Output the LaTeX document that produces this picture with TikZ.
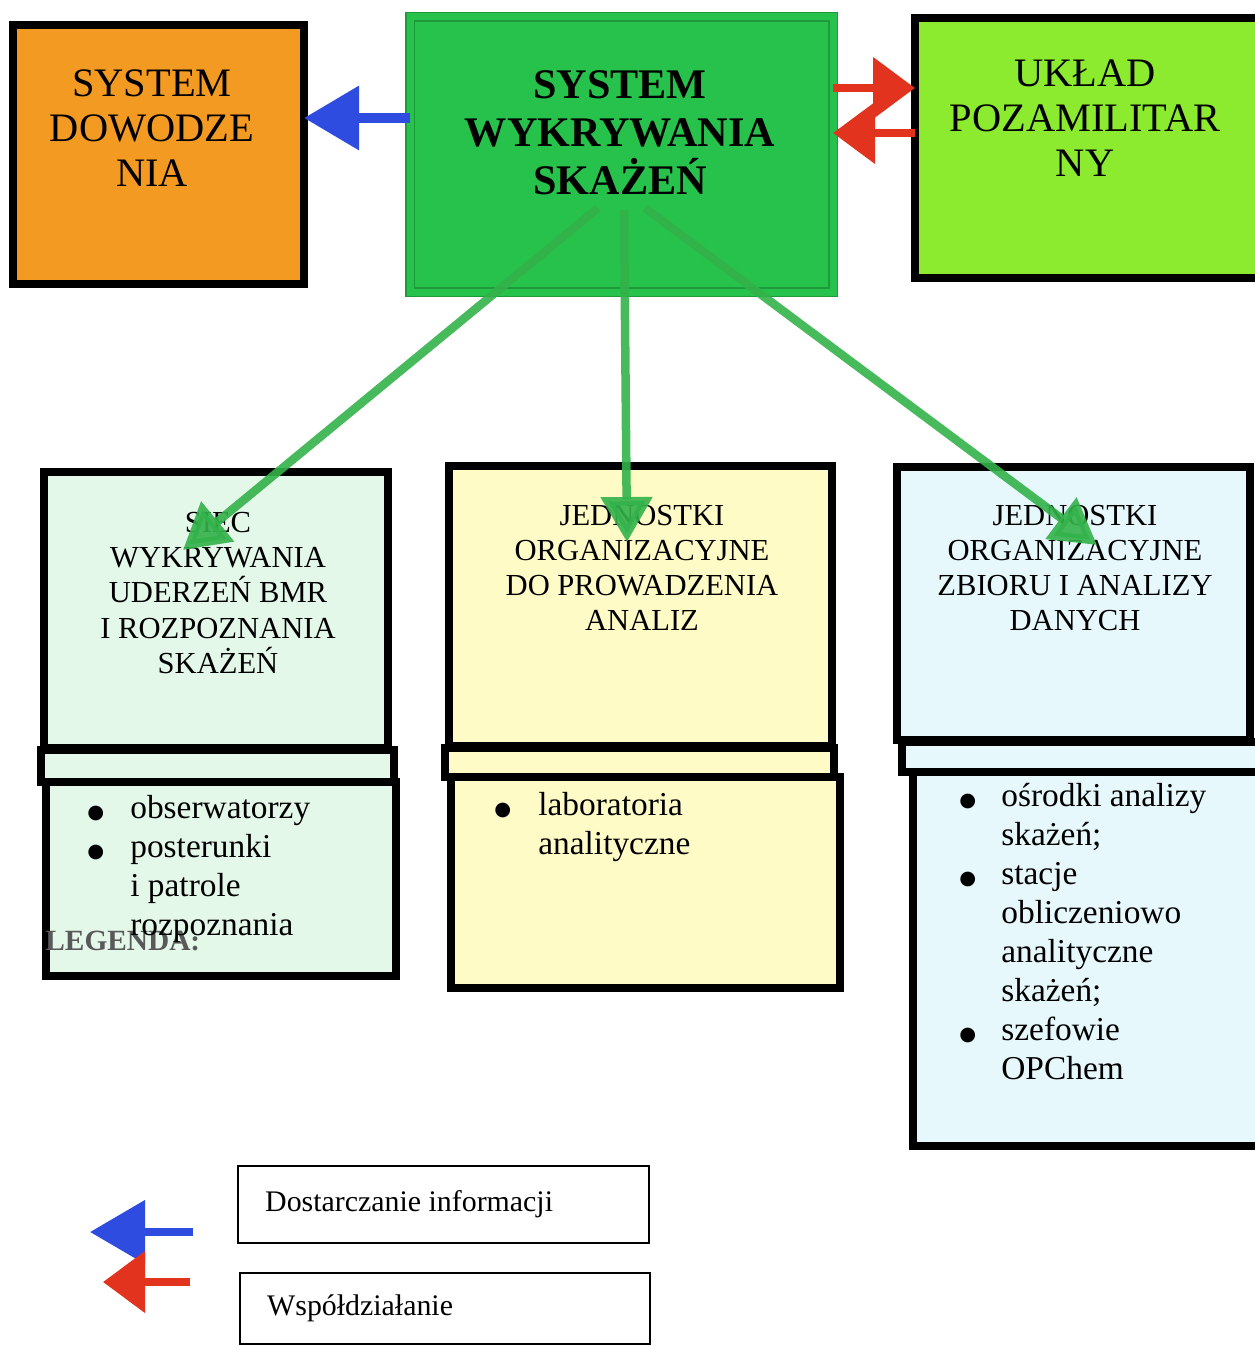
\documentclass[tikz,border=0pt]{standalone}
\usepackage{fontspec}
\setmainfont{Liberation Serif}
\newfontfamily\symb{DejaVu Sans}
\usetikzlibrary{arrows.meta,positioning}
\definecolor{pomar}{HTML}{F29A22}
\definecolor{ziel}{HTML}{27C24C}
\definecolor{zielc}{HTML}{1E9A3C}
\definecolor{limon}{HTML}{8CEB2E}
\definecolor{mieta}{HTML}{E4F8EA}
\definecolor{zolty}{HTML}{FEFBC6}
\definecolor{blek}{HTML}{E6F8FC}
\definecolor{nieb}{HTML}{2F4CE0}
\definecolor{czerw}{HTML}{E2331F}
\definecolor{strz}{HTML}{33B24A}
\newcommand{\kropka}{{\symb\fontsize{11}{11}\selectfont ●}}

\begin{document}
\begin{tikzpicture}[x=0.2mm, y=-0.2mm,
      box/.style = {rectangle, draw, line width=1.5mm,% black framed boxes
                    inner sep=0pt, outer sep=0pt, anchor=north west},
     leg/.style = {rectangle, draw, line width=0.4mm,
                    inner sep=0pt, outer sep=0pt, anchor=north west},
   duzy/.style = {font=\fontsize{23}{25.6}\selectfont, align=center},
  tytul/.style = {font=\fontsize{24}{27.3}\selectfont\bfseries, align=center},
   opis/.style = {font=\fontsize{17.4}{20}\selectfont, align=center},
  lista/.style = {font=\fontsize{19}{22.2}\selectfont, anchor=base west,
                  inner sep=0pt},
   info/.style = {draw=nieb, line width=2mm,
                  -{Triangle[length=11mm, width=12.4mm]}},
  wspol/.style = {draw=czerw, line width=1.6mm,
                  -{Triangle[length=8.4mm, width=12mm]}},
    wyk/.style = {draw=strz, line width=1.7mm, opacity=.9,
                  -{Triangle[length=9mm, width=10mm]}},
                    ]
\useasboundingbox (0,0) rectangle (1254,1346);
% top row
\node[box, fill=pomar, minimum width=58.2mm, minimum height=51.8mm] (sdow) at (13,25) {};
\node[duzy] (tdow) at (152,128) {SYSTEM\\DOWODZE\\NIA};
\node[box, fill=ziel, draw=zielc, line width=0.3mm, double=ziel, double distance=1.4mm,
      minimum width=84.6mm, minimum height=55mm] (swsk) at (410,17) {};
\node[tytul] (twsk) at (620,133) {SYSTEM\\WYKRYWANIA\\SKAŻEŃ};
\node[box, fill=limon, minimum width=71.9mm, minimum height=52mm] (uklad) at (915,18) {};
\node[duzy] (tukl) at (1085,118) {UKŁAD\\POZAMILITAR\\NY};
% lower columns
\node[box, fill=mieta, minimum width=68.8mm, minimum height=55.2mm] (siec) at (44,472) {};
\node[box, fill=mieta, minimum width=70.6mm, minimum height=6.4mm] (siecP) at (41,750) {};
\node[box, fill=mieta, minimum width=70mm, minimum height=38.8mm] (siecL) at (46,782) {};
\node[box, fill=zolty, minimum width=76.6mm, minimum height=56mm] (lab) at (449,466) {};
\node[box, fill=zolty, minimum width=77.8mm, minimum height=5.8mm] (labP) at (445,748) {};
\node[box, fill=zolty, minimum width=77.8mm, minimum height=42.2mm] (labL) at (451,777) {};
\node[box, fill=blek, minimum width=70.6mm, minimum height=54.6mm] (dane) at (897,467) {};
\node[box, fill=blek, minimum width=72mm, minimum height=6mm] (daneP) at (902,742) {};
\node[box, fill=blek, minimum width=69.8mm, minimum height=74.8mm] (daneL) at (913,772) {};
\node[opis] (tsiec) at (218,593) {SIEC\\WYKRYWANIA\\UDERZEŃ BMR\\I ROZPOZNANIA\\SKAŻEŃ};
\node[opis] (tlab) at (642,568) {JEDNOSTKI\\ORGANIZACYJNE\\DO PROWADZENIA\\ANALIZ};
\node[opis] (tdane) at (1075,568) {JEDNOSTKI\\ORGANIZACYJNE\\ZBIORU I ANALIZY\\DANYCH};
\node[font=\fontsize{16.7}{20}\selectfont\bfseries, text=gray!70!black,
      anchor=base west, inner sep=0pt] (legenda) at (45,950) {LEGENDA:};
\node[lista] (lsiec) at (87,818) {\begin{tabular}[t]{@{}p{8.6mm}@{}l@{}}
  \kropka & obserwatorzy\\ \kropka & posterunki\\ & i patrole\\ & rozpoznania\end{tabular}};
\node[lista] (llab) at (494,815) {\begin{tabular}[t]{@{}p{8.8mm}@{}l@{}}
  \kropka & laboratoria\\ & analityczne\end{tabular}};
\node[lista] (ldane) at (959,806) {\begin{tabular}[t]{@{}p{8.4mm}@{}l@{}}
  \kropka & ośrodki analizy\\ & skażeń;\\ \kropka & stacje\\ & obliczeniowo\\
    & analityczne\\ & skażeń;\\ \kropka & szefowie\\ & OPChem\end{tabular}};
% connectors
\draw[info] (swsk.west |- 0,118) -- (sdow.east |- 0,118);
\draw[wspol] (swsk.east |- 0,88) -- (uklad.west |- 0,88);
\draw[wspol] (uklad.west |- 0,133) -- (swsk.east |- 0,133);
\coordinate (z1) at (598,208);  \coordinate (k1) at (183,550);
\coordinate (z2) at (624,210);  \coordinate (k2) at (627,542);
\coordinate (z3) at (645,208);  \coordinate (k3) at (1097,545);
\foreach \i in {1,2,3}
    \draw[wyk] (z\i) -- (k\i);
% legend
\node[leg, minimum width=82.2mm, minimum height=15.4mm] (leg1) at (238,1166) {};
\node[leg, minimum width=82mm, minimum height=14.2mm] (leg2) at (240,1273) {};
\node[font=\fontsize{17}{20}\selectfont, right=4.2mm of leg1.west] (tleg1) {Dostarczanie informacji};
\node[font=\fontsize{17}{20}\selectfont, right=4.2mm of leg2.west] (tleg2) {Współdziałanie};
\coordinate (b1) at (193,1232);  \coordinate (b2) at (90,1232);
\coordinate (c1) at (190,1282);  \coordinate (c2) at (103,1282);
\draw[info, line width=1.6mm] (b1) -- (b2);
\draw[wspol] (c1) -- (c2);
\end{tikzpicture}
\end{document}
